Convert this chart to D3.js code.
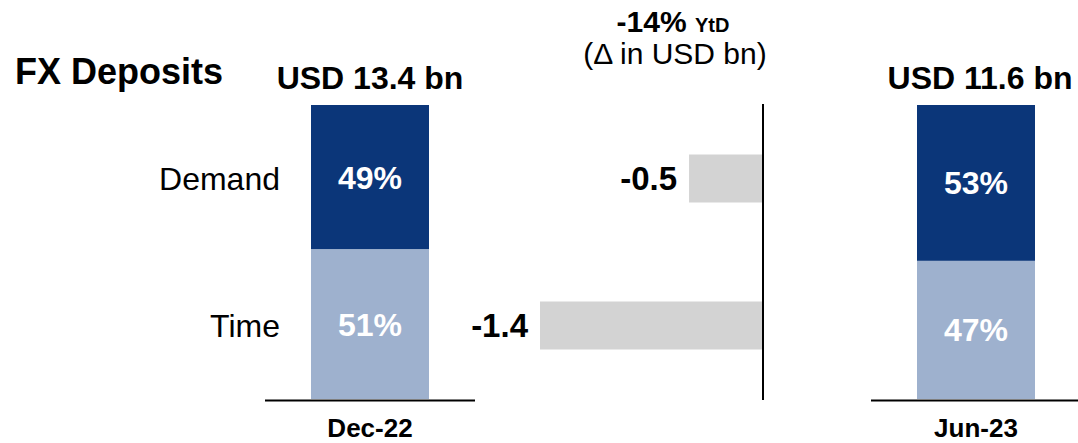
<!DOCTYPE html>
<html>
<head>
<meta charset="utf-8">
<script src="https://cdn.jsdelivr.net/npm/d3@7"></script>
<style>
  body { margin: 0; background: #fff; }
  text { font-family: "Liberation Sans", Arial, sans-serif; }
</style>
</head>
<body>
<div id="chart"></div>
<script>
// FX deposits: mix at two dates + change in between
const periods = ["Dec-22", "Jun-23"];
const totals = ["USD 13.4 bn", "USD 11.6 bn"];
const categories = ["Demand", "Time"];
const shares = { "Dec-22": [0.49, 0.51], "Jun-23": [0.53, 0.47] };
const deltas = [-0.46, -1.4];
const deltaLabels = ["-0.5", "-1.4"];

const W = 1078, H = 443;
const colors = { Demand: "#0b3679", Time: "#9eb1ce" };

const svg = d3.select("#chart")
  .append("svg")
  .attr("width", W)
  .attr("height", H);

// columns: left bar, delta panel, right bar
const xCol = d3.scalePoint()
  .domain(["Dec-22", "delta", "Jun-23"])
  .range([370, 976]);

const barW = 118;
const yTop = 105, yBot = 399;

const yShare = d3.scaleLinear().domain([0, 1]).range([yBot, yTop]);

const yCat = d3.scalePoint()
  .domain(categories)
  .range([yTop, yBot])
  .padding(0.5);

const xDelta = d3.scaleLinear().domain([-1.4, 0]).range([540, 762]);

// title
svg.append("text")
  .attr("x", 15).attr("y", 84)
  .attr("font-size", 36).attr("font-weight", "bold")
  .text("FX Deposits");

// stacked bars
periods.forEach((p, i) => {
  const cx = xCol(p);
  let cum = 0;
  const segs = categories.map((c, j) => ({ cat: c, v: shares[p][j] }));
  // Time sits at the bottom
  const stack = [segs[1], segs[0]].map(s => {
    const o = { ...s, y0: cum, y1: cum + s.v };
    cum += s.v;
    return o;
  });

  const g = svg.append("g");
  g.selectAll("rect")
    .data(stack)
    .join("rect")
    .attr("x", cx - barW / 2)
    .attr("width", barW)
    .attr("y", d => yShare(d.y1))
    .attr("height", d => yShare(d.y0) - yShare(d.y1))
    .attr("fill", d => colors[d.cat]);

  g.selectAll("text.pct")
    .data(stack)
    .join("text")
    .attr("class", "pct")
    .attr("x", cx)
    .attr("y", d => (yShare(d.y0) + yShare(d.y1)) / 2)
    .attr("dy", "0.36em")
    .attr("text-anchor", "middle")
    .attr("fill", "#fff")
    .attr("font-size", 32).attr("font-weight", "bold")
    .text(d => Math.round(d.v * 100) + "%");

  // total on top
  svg.append("text")
    .attr("x", cx + (i === 1 ? 4 : 0)).attr("y", 89)
    .attr("text-anchor", "middle")
    .attr("font-size", 32).attr("font-weight", "bold")
    .text(totals[i]);

  // baseline
  svg.append("line")
    .attr("x1", cx - 105).attr("x2", cx + 105)
    .attr("y1", yBot + 1.5).attr("y2", yBot + 1.5)
    .attr("stroke", "#000").attr("stroke-width", 2);

  // period label
  svg.append("text")
    .attr("x", cx).attr("y", 437)
    .attr("text-anchor", "middle")
    .attr("font-size", 26).attr("font-weight", "bold")
    .text(p);
});

// category labels
svg.selectAll("text.cat")
  .data(categories)
  .join("text")
  .attr("class", "cat")
  .attr("x", 280)
  .attr("y", d => yCat(d))
  .attr("dy", "0.36em")
  .attr("text-anchor", "end")
  .attr("font-size", 32)
  .text(d => d);

// delta panel
const dx = xCol("delta");
const head = svg.append("text")
  .attr("x", dx).attr("y", 32)
  .attr("text-anchor", "middle")
  .attr("font-weight", "bold");
head.append("tspan").attr("font-size", 30).text("-14% ");
head.append("tspan").attr("font-size", 20).text("YtD");

svg.append("text")
  .attr("x", dx + 2).attr("y", 64)
  .attr("text-anchor", "middle")
  .attr("font-size", 30)
  .text("(\u0394 in USD bn)");

const barH = 48;
const dData = categories.map((c, i) => ({ cat: c, v: deltas[i], label: deltaLabels[i] }));

svg.selectAll("rect.delta")
  .data(dData)
  .join("rect")
  .attr("class", "delta")
  .attr("x", d => xDelta(d.v))
  .attr("width", d => xDelta(0) - xDelta(d.v))
  .attr("y", d => yCat(d.cat) - barH / 2)
  .attr("height", barH)
  .attr("fill", "#d3d3d3");

svg.selectAll("text.dlab")
  .data(dData)
  .join("text")
  .attr("class", "dlab")
  .attr("x", d => xDelta(d.v) - 12)
  .attr("y", d => yCat(d.cat))
  .attr("dy", "0.36em")
  .attr("text-anchor", "end")
  .attr("font-size", 33).attr("font-weight", "bold")
  .text(d => d.label);

svg.append("line")
  .attr("x1", xDelta(0) + 1).attr("x2", xDelta(0) + 1)
  .attr("y1", yTop - 1).attr("y2", yBot + 1)
  .attr("stroke", "#000").attr("stroke-width", 2);
</script>
</body>
</html>
